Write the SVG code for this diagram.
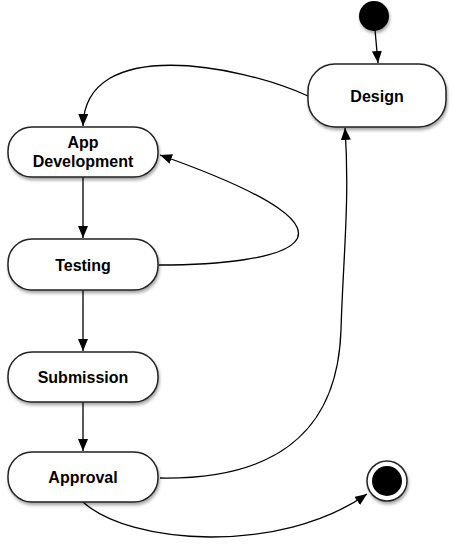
<svg xmlns="http://www.w3.org/2000/svg" width="454" height="544" viewBox="0 0 454 544">
<defs>
<marker id="arr" markerUnits="userSpaceOnUse" markerWidth="14" markerHeight="12" refX="12" refY="5" orient="auto"><path d="M0,0 L12,5 L0,10 Z" fill="#000"/></marker>
<filter id="sh" x="-10%" y="-10%" width="125%" height="135%"><feDropShadow dx="1" dy="2.5" stdDeviation="1.5" flood-color="#000" flood-opacity="0.35"/></filter>
</defs>
<style>
.node rect{fill:#fff;stroke:#222;stroke-width:1.5;filter:url(#sh)}
.node text{font-family:"Liberation Sans",Arial,sans-serif;font-weight:bold;font-size:16px;fill:#000;text-anchor:middle}
.edges path{fill:none;stroke:#000;stroke-width:1.3;marker-end:url(#arr)}
</style>
<g class="edges">
<path d="M375,30 L378,63"/>
<path d="M308,96 C240,65 85,35 83,126"/>
<path d="M83,177 L83,238"/>
<path d="M159,265 C280,265 400,240 160,155"/>
<path d="M83,290 L83,351"/>
<path d="M83,402 L83,451"/>
<path d="M160,478 C290,480 338,420 341,330 C343,260 350,200 345,128"/>
<path d="M83,502 C130,545 280,555 367,494"/>
</g>
<g id="start"><circle cx="374" cy="16" r="15" fill="#000" filter="url(#sh)"/></g>
<g id="design" class="node"><rect x="308" y="64" width="138" height="63" rx="27"/><text x="377" y="102">Design</text></g>
<g id="appdev" class="node"><rect x="8" y="127" width="150" height="50" rx="24"/><text x="83" y="148">App</text><text x="83" y="167">Development</text></g>
<g id="testing" class="node"><rect x="8" y="239" width="150" height="51" rx="24"/><text x="83" y="271">Testing</text></g>
<g id="submission" class="node"><rect x="8" y="352" width="150" height="50" rx="24"/><text x="83" y="383">Submission</text></g>
<g id="approval" class="node"><rect x="8" y="452" width="150" height="50" rx="24"/><text x="83" y="483">Approval</text></g>
<g id="end"><circle cx="387" cy="481" r="20" fill="#fff" stroke="#222" stroke-width="1.5" filter="url(#sh)"/><circle cx="387" cy="481" r="15" fill="#000"/></g>
</svg>
